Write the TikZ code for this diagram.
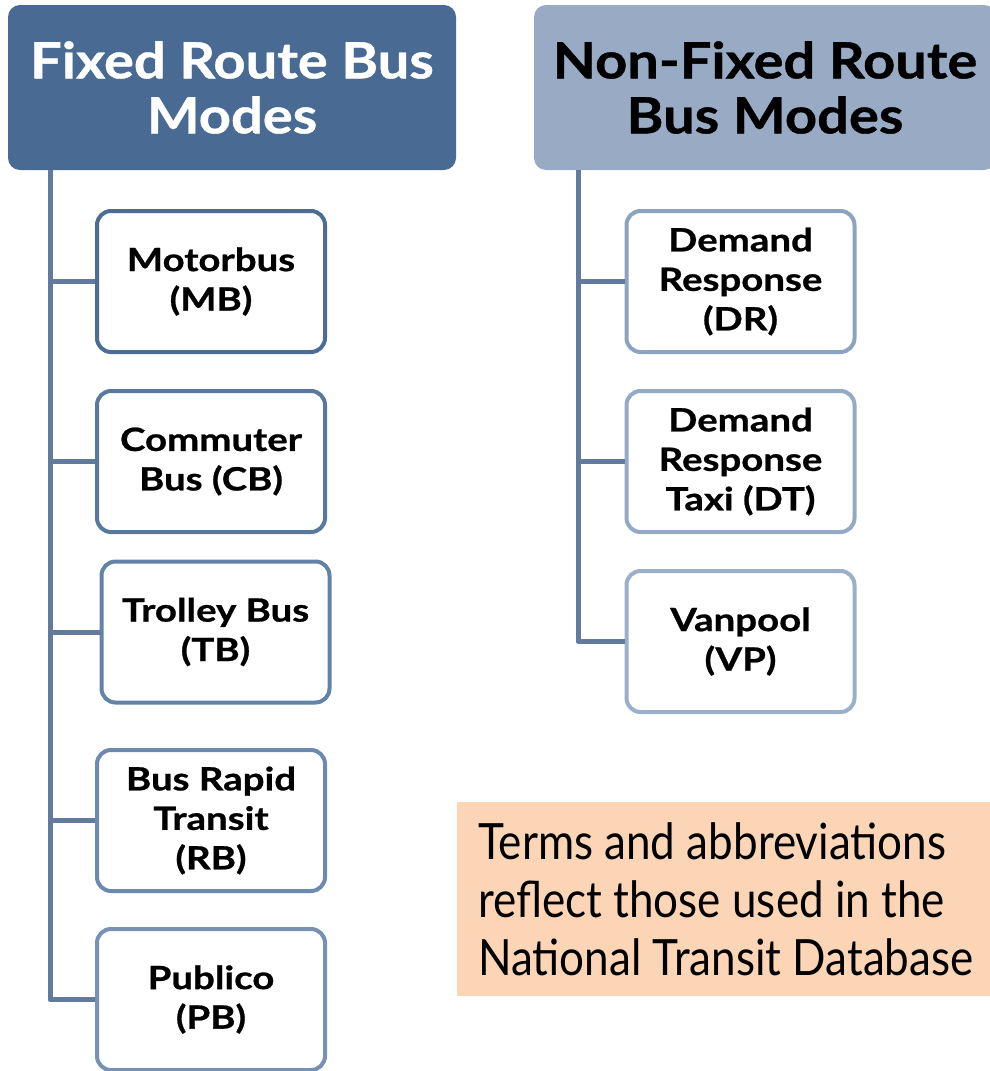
\documentclass[tikz,border=0pt]{standalone}
\usepackage{fontspec}
\setmainfont{Lato}
\newfontfamily\hdrfont{Lato}[FakeStretch=1.12,FakeBold=0.8]
\newfontfamily\boxfont{Lato}[FakeStretch=1.2,FakeBold=0.8]
\newfontfamily\notefont{Lato}[FakeStretch=0.88]
\definecolor{hdrA}{HTML}{486A93}
\definecolor{hdrB}{HTML}{98AAC4}
\definecolor{trunk}{HTML}{627A9D}
\definecolor{bA}{HTML}{4C6C94}
\definecolor{bB}{HTML}{58799E}
\definecolor{bC}{HTML}{6282A7}
\definecolor{bD}{HTML}{6C8AAF}
\definecolor{bE}{HTML}{7691B4}
\definecolor{rA}{HTML}{8CA3C0}
\definecolor{rB}{HTML}{93A9C5}
\definecolor{rC}{HTML}{9AAFC9}
\definecolor{notefill}{HTML}{FBD5B5}
\tikzset{
  hdr/.style={rectangle, rounded corners=12pt, minimum width=448pt, minimum height=165pt,
    align=center, font=\hdrfont\fontsize{50}{55}\selectfont\bfseries, inner sep=0pt},
  modebox/.style={rectangle, rounded corners=14pt, draw, line width=4pt, fill=white,
    minimum width=228pt, minimum height=141pt, align=center,
    font=\boxfont\fontsize{32}{39.5}\selectfont\bfseries, inner sep=0pt},
  conn/.style={draw=trunk, line width=5pt},
}
\begin{document}
\begin{tikzpicture}[x=1pt,y=-1pt]
\useasboundingbox (0,0) rectangle (990,1071);
\node[hdr, fill=hdrA, text=white] (h1) at (232,87.5) {Fixed Route Bus\\Modes};
\node[hdr, fill=hdrB, text=black, minimum width=462pt] (h2) at (765,87.5) {Non-Fixed Route\\Bus Modes};
\coordinate (t1) at (50,170);
\coordinate (t2) at (578,170);
\node[modebox, draw=bA] (mb) at (211,281.5) {Motorbus\\(MB)};
\node[modebox, draw=bB] (cb) at (211,461.5) {Commuter\\Bus (CB)};
\node[modebox, draw=bC] (tb) at (215.5,632) {Trolley Bus\\(TB)};
\node[modebox, draw=bD] (rb) at (211,820.5) {Bus Rapid\\Transit\\(RB)};
\node[modebox, draw=bE] (pb) at (211,999.5) {Publico\\(PB)};
\node[modebox, draw=rA] (dr) at (740.5,281.5) {Demand\\Response\\(DR)};
\node[modebox, draw=rB] (dt) at (740.5,461.5) {Demand\\Response\\Taxi (DT)};
\node[modebox, draw=rC] (vp) at (740.5,641.5) {Vanpool\\(VP)};
\draw[conn] (t1) |- (mb);
\draw[conn] (t1) |- (cb);
\draw[conn] (t1) |- (tb);
\draw[conn] (t1) |- (rb);
\draw[conn, line join=round] (t1) |- (pb);
\draw[conn] (t2) |- (dr);
\draw[conn] (t2) |- (dt);
\draw[conn, line join=round] (t2) |- (vp);
\node[rectangle, fill=notefill, minimum width=533pt, minimum height=194pt, inner sep=0pt] (note) at (723.5,899) {};
\node[anchor=west, align=left, font=\notefont\fontsize{50}{58}\selectfont, inner sep=0pt] (notetext) at (478,899) {Terms and abbreviations\\reflect those used in the\\National Transit Database};
\end{tikzpicture}
\end{document}
